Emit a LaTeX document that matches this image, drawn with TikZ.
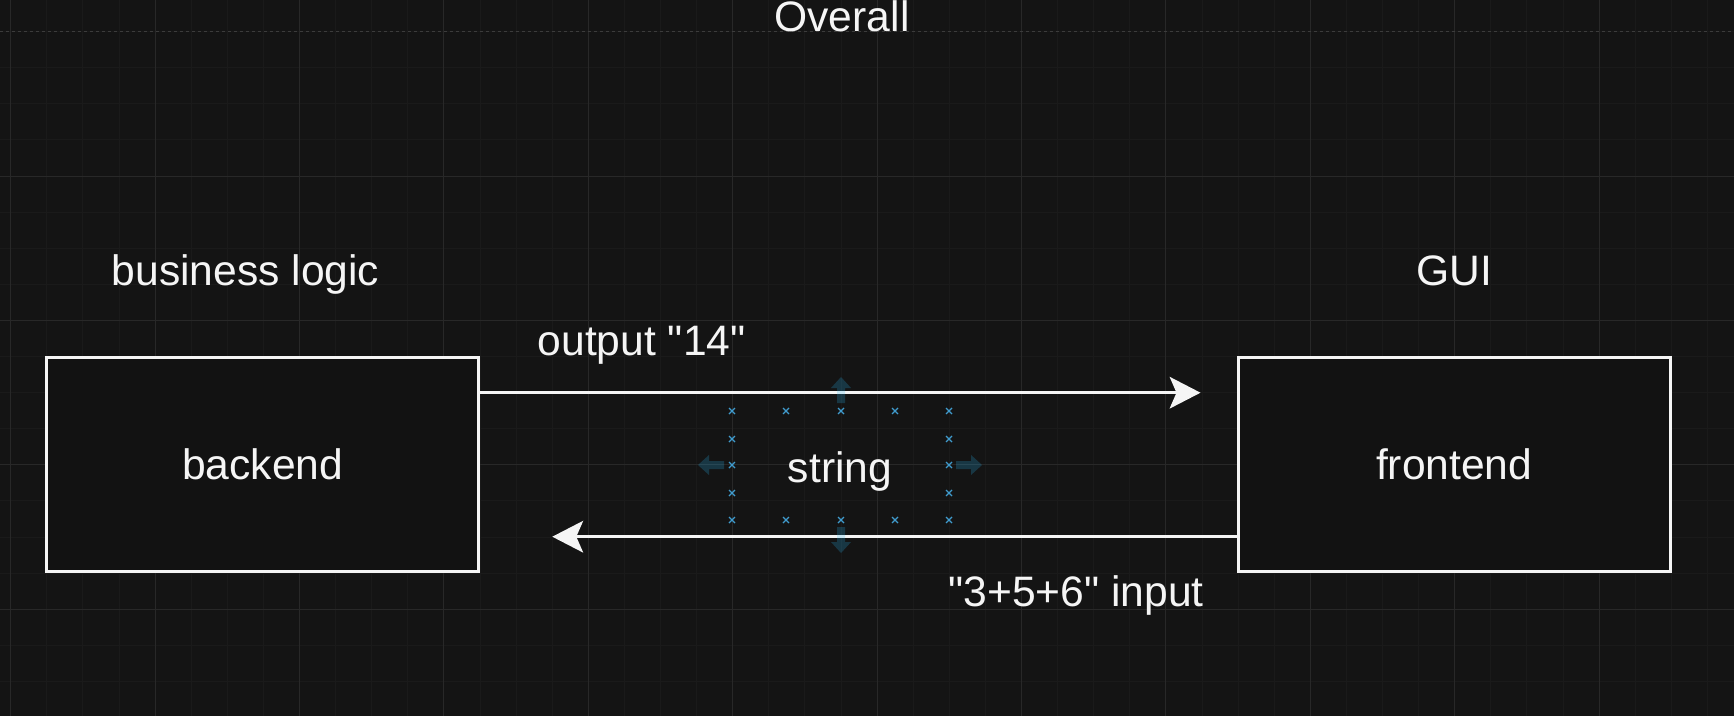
\documentclass[tikz,border=0pt]{standalone}
\usepackage{fontspec}
\setmainfont{Liberation Sans}
\usetikzlibrary{arrows.meta,positioning}
\definecolor{bgdark}{RGB}{20,20,20}
\definecolor{boxfill}{RGB}{18,18,18}
\definecolor{gridminor}{RGB}{26,26,26}
\definecolor{gridmajor}{RGB}{40,40,40}
\definecolor{pagebreak}{RGB}{60,60,60}
\definecolor{handleblue}{RGB}{64,155,205}
\definecolor{hoverblue}{RGB}{41,182,242}
\definecolor{inkwhite}{RGB}{245,245,245}
\newcommand\hmark[2]{\draw[handle] (#1-3,#2-3) -- (#1+3,#2+3) (#1-3,#2+3) -- (#1+3,#2-3);}
\newcommand\hoverarrow[3]{\fill[hover, shift={(#1,#2)}, rotate=#3] (0,-4) -- (15,-4) -- (15,-10) -- (26,0) -- (15,10) -- (15,4) -- (0,4) -- cycle;}

\begin{document}
\begin{tikzpicture}[x=1pt, y=-1pt,
  txt/.style={text=inkwhite, font={\fontsize{42.6}{51}\selectfont}},
  box/.style={txt, draw=inkwhite, fill=boxfill, line width=3pt, minimum width=432pt, minimum height=214pt},
  flow/.style={draw=inkwhite, line width=3pt, -{Stealth[length=31pt, width=32pt, inset=7pt, line width=0pt]}},
  handle/.style={draw=handleblue, line width=1.3pt},
  hover/.style={fill=hoverblue, fill opacity=0.22}]
\useasboundingbox (0,0) rectangle (1734,716);
\fill[bgdark] (0,0) rectangle (1734,716);
\draw[gridminor, line width=1pt] \foreach \k in {0,...,47} {({10.7+36.1*\k},0) -- ({10.7+36.1*\k},716)};
\draw[gridminor, line width=1pt] \foreach \k in {0,...,18} {(0,{31.6+36.1*\k}) -- (1734,{31.6+36.1*\k})};
\draw[gridmajor, line width=1pt] \foreach \k in {0,...,11} {({10.7+144.4*\k},0) -- ({10.7+144.4*\k},716)};
\draw[gridmajor, line width=1pt] \foreach \k in {1,...,4} {(0,{31.6+144.4*\k}) -- (1734,{31.6+144.4*\k})};
\draw[pagebreak, line width=1pt, dash pattern=on 3pt off 3pt] (0,31.6) -- (1734,31.6);

\node[txt, anchor=base] (overall) at (842,31.7) {Overall};
\node[txt, anchor=base] (bizlogic) at (245.5,285) {business logic};
\node[txt, anchor=base] (gui) at (1454,285) {GUI};
\node[box] (backend) at (262.7,464.7) {backend};
\node[box] (frontend) at (1454.2,464.7) {frontend};

\coordinate (outEnd) at (1200.5,392.7);
\coordinate (inEnd) at (552.3,536.7);
\draw[flow] (backend.east |- outEnd) -- (outEnd);
\draw[flow] (frontend.west |- inEnd) -- (inEnd);
\node[txt, anchor=base] (outlabel) at (641.7,355) {output \textquotedbl14\textquotedbl};
\node[txt, anchor=base] (inlabel) at (1076,606.7) {\textquotedbl3+5+6\textquotedbl{} input};

\node[txt, anchor=base] (string) at (840,482) {string};
\foreach \x in {732,786,841,895,949} {\hmark{\x}{411} \hmark{\x}{520}}
\foreach \y in {439,465,493} {\hmark{732}{\y} \hmark{949}{\y}}
\hoverarrow{841}{403}{90}
\hoverarrow{841}{527}{-90}
\hoverarrow{724}{465}{180}
\hoverarrow{956}{465}{0}
\end{tikzpicture}
\end{document}
